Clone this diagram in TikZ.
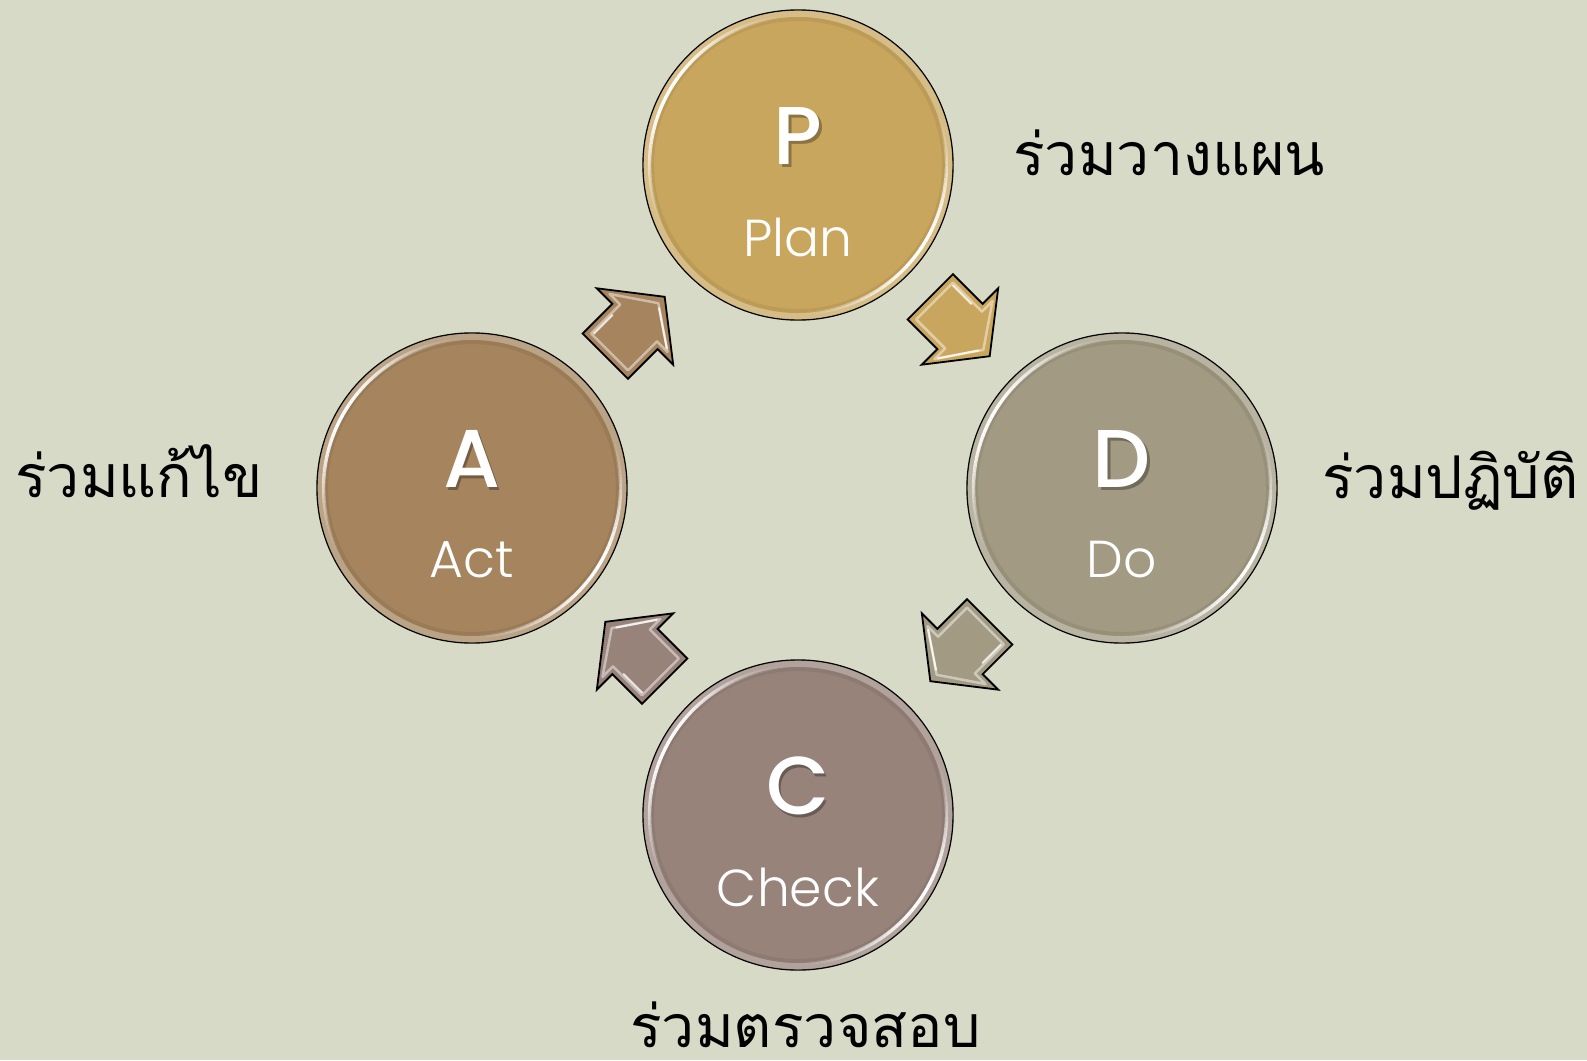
\documentclass[tikz,border=0pt]{standalone}
\usepackage{fontspec}
\newfontfamily\thaifont[Script=Thai]{Loma}
\newfontfamily\letterfont{Poppins Medium}
\newfontfamily\wordfont{Poppins Light}
\usetikzlibrary{calc}
\definecolor{bg}{HTML}{D7DAC6}
\definecolor{cP}{HTML}{C9A65E}
\definecolor{cD}{HTML}{A29A82}
\definecolor{cC}{HTML}{97837A}
\definecolor{cA}{HTML}{A5845E}
\newcommand\glossring[2]{%
  \begin{scope}[shift={(#1)}, y=1pt]
    \begin{scope}
      \clip (0,0) circle (154.5);
      \draw[#2!50!white, line width=8pt, opacity=0.5] (0,0) circle (152);
      \draw[#2!75!black, line width=4pt, opacity=0.25] (0,0) circle (146);
    \end{scope}
    \foreach \a in {90,92,...,208} {
      \pgfmathsetmacro\op{(cos((\a-150)*1.5))^2}
      \draw[white, line width=3.4pt, opacity=\op] (\a:148.5) arc[start angle=\a, end angle=\a+2, radius=148.5];
    }
    \foreach \a in {-95,-93,...,23} {
      \pgfmathsetmacro\op{(cos((\a+35)*1.5))^2}
      \draw[white, line width=3.4pt, opacity=\op] (\a:148.5) arc[start angle=\a, end angle=\a+2, radius=148.5];
    }
  \end{scope}}
\newcommand\blockarrow[3]{%
  \begin{scope}[shift={(#1)}, rotate=#2, y=1pt]
    \draw[fill=#3, line width=1.8pt, line join=miter]
      (-42,-32) -- (0,-32) -- (0,-54) -- (42,0) -- (0,54) -- (0,32) -- (-42,32) -- cycle;
    \draw[#3!35!white, line width=2.5pt, opacity=0.7, line join=round]
      (-36,-26) -- (5,-26) -- (5,-41) -- (33,0) -- (5,41) -- (5,26) -- (-36,26) -- cycle;
    \draw[white, line width=2pt, opacity=0.8, line cap=round] (7,-38) -- (30,-4);
    \draw[white, line width=2pt, opacity=0.8, line cap=round] (-34,24) -- (-8,24);
  \end{scope}}
\begin{document}
\begin{tikzpicture}[x=1pt,y=-1pt,
  ball/.style={circle, draw=black, line width=1.4pt, minimum size=310pt, inner sep=0pt},
  letter/.style={text=white, font=\letterfont\fontsize{82}{82}\selectfont, inner sep=0pt},
  lshadow/.style={text=black, opacity=0.3, font=\letterfont\fontsize{82}{82}\selectfont, inner sep=0pt},
  word/.style={text=white, font=\wordfont\fontsize{52}{52}\selectfont, inner sep=0pt},
  thailabel/.style={text=black, font=\thaifont\fontsize{59}{59}\selectfont, inner sep=0pt, anchor=base west}]
\useasboundingbox (0,0) rectangle (1587,1060);
\fill[bg] (0,0) rectangle (1587,1060);

\node[ball, fill=cP] (P) at (798,165) {};
\node[ball, fill=cD] (D) at (1122,488) {};
\node[ball, fill=cC] (C) at (798,815) {};
\node[ball, fill=cA] (A) at (472,488) {};

\glossring{P}{cP}
\glossring{D}{cD}
\glossring{C}{cC}
\glossring{A}{cA}

\coordinate (pd) at ($(P)!0.5!(D)$);
\coordinate (dc) at ($(D)!0.5!(C)$);
\coordinate (ca) at ($(C)!0.5!(A)$);
\coordinate (ap) at ($(A)!0.5!(P)$);
\blockarrow{pd}{-45}{cP}
\blockarrow{dc}{-135}{cD}
\blockarrow{ca}{135}{cC}
\blockarrow{ap}{45}{cA}

\foreach \n/\l/\w in {P/P/Plan, D/D/Do, C/C/Check, A/A/Act} {
  \node[lshadow] (\n s) at ($(\n)+(2.5,-26)$) {\l};
  \node[letter] (\n l) at ($(\n)+(0,-29)$) {\l};
  \node[word] (\n w) at ($(\n)+(0,72)$) {\w};
}

\node[thailabel] (tP) at (1013,175) {ร่วมวางแผน};
\node[thailabel] (tD) at (1322,498) {ร่วมปฏิบัติ};
\node[thailabel] (tC) at (630,1047) {ร่วมตรวจสอบ};
\node[thailabel] (tA) at (15,497) {ร่วมแก้ไข};
\end{tikzpicture}
\end{document}
